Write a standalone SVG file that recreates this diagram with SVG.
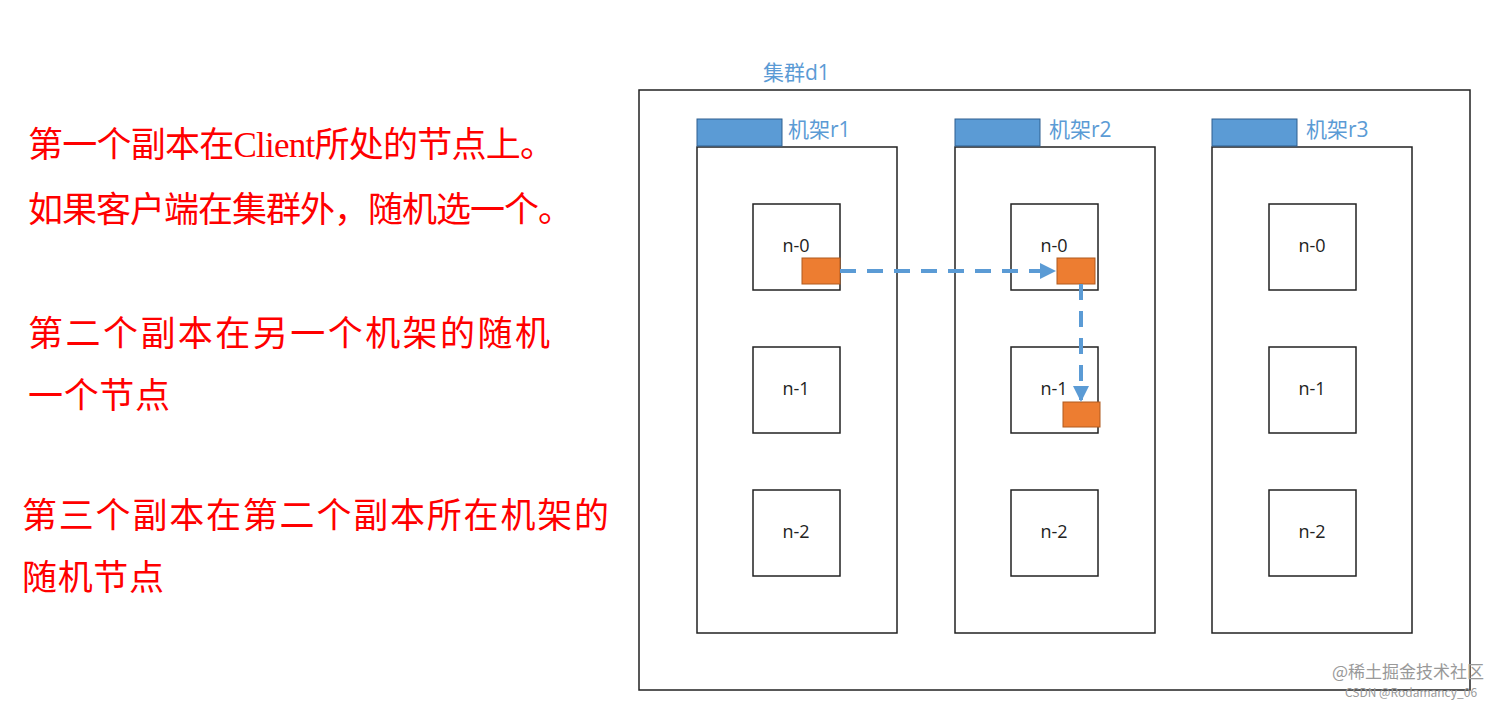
<svg xmlns="http://www.w3.org/2000/svg" width="1512" height="705" viewBox="0 0 1512 705">
<style>
.box{fill:#fff;stroke:#222;stroke-width:1.5}
.tab{fill:#5b9bd5;stroke:#2e5f8f;stroke-width:1}
.lab{font-family:"Open Sans","Liberation Sans","Noto Sans CJK SC",sans-serif;font-size:21px;fill:#5b9bd5}
.n{font-family:"Open Sans","Liberation Sans",sans-serif;font-size:18px;fill:#222;text-anchor:middle}
.red{font-family:"Noto Sans CJK SC",sans-serif;font-size:35px;fill:#f00}
.rep{fill:#ed7d31;stroke:#b05a1e;stroke-width:1}
.flow{stroke:#5b9bd5;stroke-width:4;stroke-dasharray:16 11;fill:none}
.wm{font-family:"Noto Sans CJK SC","Liberation Sans",sans-serif;fill:#999}
</style>
<defs><marker id="ah" markerWidth="4" markerHeight="4" refX="3.5" refY="2" orient="auto" markerUnits="strokeWidth"><path d="M0,0 L4,2 L0,4 Z" fill="#5b9bd5"/></marker></defs>
<rect width="1512" height="705" fill="#fff"/>
<g id="notes">
<text class="red" x="28" y="157" textLength="527">第一个副本在<tspan font-family="Liberation Serif">Client</tspan>所处的节点上。</text>
<text class="red" x="28" y="222" textLength="545">如果客户端在集群外，随机选一个。</text>
<text class="red" x="28" y="346" textLength="522">第二个副本在另一个机架的随机</text>
<text class="red" x="28" y="408" textLength="142">一个节点</text>
<text class="red" x="22" y="528" textLength="587">第三个副本在第二个副本所在机架的</text>
<text class="red" x="22" y="590" textLength="142">随机节点</text>
</g>
<g id="cluster"><rect class="box" x="639" y="90" width="831" height="600"/><text class="lab" x="763" y="80">集群d1</text></g>
<g id="r1"><rect class="box" x="697" y="147" width="200" height="486"/><rect class="tab" x="697" y="119" width="85" height="27"/><text class="lab" x="788" y="137">机架r1</text></g>
<g id="r2"><rect class="box" x="955" y="147" width="200" height="486"/><rect class="tab" x="955" y="119" width="85" height="27"/><text class="lab" x="1049" y="137">机架r2</text></g>
<g id="r3"><rect class="box" x="1212" y="147" width="200" height="486"/><rect class="tab" x="1212" y="119" width="85" height="27"/><text class="lab" x="1306" y="137">机架r3</text></g>
<g id="r1n0"><rect class="box" x="753" y="204" width="87" height="86"/><text class="n" x="796" y="252">n-0</text></g>
<g id="r1n1"><rect class="box" x="753" y="347" width="87" height="86"/><text class="n" x="796" y="395">n-1</text></g>
<g id="r1n2"><rect class="box" x="753" y="490" width="87" height="86"/><text class="n" x="796" y="538">n-2</text></g>
<g id="r2n0"><rect class="box" x="1011" y="204" width="87" height="86"/><text class="n" x="1054" y="252">n-0</text></g>
<g id="r2n1"><rect class="box" x="1011" y="347" width="87" height="86"/><text class="n" x="1054" y="395">n-1</text></g>
<g id="r2n2"><rect class="box" x="1011" y="490" width="87" height="86"/><text class="n" x="1054" y="538">n-2</text></g>
<g id="r3n0"><rect class="box" x="1269" y="204" width="87" height="86"/><text class="n" x="1312" y="252">n-0</text></g>
<g id="r3n1"><rect class="box" x="1269" y="347" width="87" height="86"/><text class="n" x="1312" y="395">n-1</text></g>
<g id="r3n2"><rect class="box" x="1269" y="490" width="87" height="86"/><text class="n" x="1312" y="538">n-2</text></g>
<g id="rep1"><rect class="rep" x="802" y="258" width="38" height="26"/></g>
<g id="rep2"><rect class="rep" x="1057" y="258" width="38" height="26"/></g>
<g id="rep3"><rect class="rep" x="1063" y="402" width="37" height="25"/></g>
<g id="connectors">
<path class="flow" d="M840,271 H1054" marker-end="url(#ah)"/>
<path class="flow" d="M1081,284 V400" marker-end="url(#ah)"/>
</g>
<text class="wm" x="1332" y="678" font-size="17">@稀土掘金技术社区</text>
<text class="wm" x="1345" y="697" font-size="12">CSDN @Rodamancy_06</text>
</svg>
